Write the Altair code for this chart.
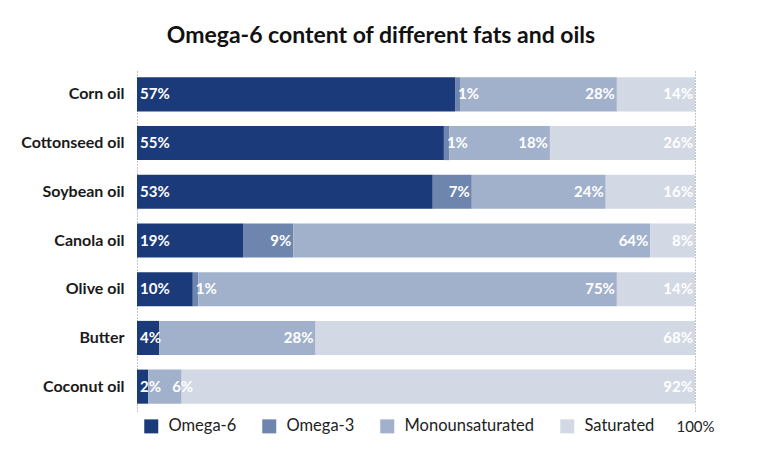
import altair as alt
import pandas as pd

categories = ["Corn oil", "Cottonseed oil", "Soybean oil", "Canola oil", "Olive oil", "Butter", "Coconut oil"]
series = ["Omega-6", "Omega-3", "Monounsaturated", "Saturated"]
omega6 = [57, 55, 53, 19, 10, 4, 2]
omega3 = [1, 1, 7, 9, 1, 0, 0]
mono = [28, 18, 24, 64, 75, 28, 6]
saturated = [14, 26, 16, 8, 14, 68, 92]
colors = ["#1b3a7a", "#6e85ae", "#a1b1cb", "#d2d9e5"]

rows = []
for i, c in enumerate(categories):
    for j, (s, vals) in enumerate(zip(series, [omega6, omega3, mono, saturated])):
        rows.append({"cat": c, "series": s, "order": j, "value": vals[i]})
df = pd.DataFrame(rows)

FONT = "Lato"

base = alt.Chart(df).transform_stack(
    stack="value", as_=["start", "end"], groupby=["cat"], sort=[alt.SortField("order")]
).transform_calculate(lbl="datum.value + '%'")

y = alt.Y("cat:N", sort=categories, title=None,
          scale=alt.Scale(paddingInner=0.3, paddingOuter=0.15),
          axis=alt.Axis(domain=False, ticks=False, labelFontWeight="bold", labelFontSize=16,
                        labelFont=FONT, labelColor="#1a1a1a", labelPadding=13))

bars = base.mark_bar().encode(
    x=alt.X("start:Q", scale=alt.Scale(domain=[0, 100], nice=False), title=None,
            axis=alt.Axis(values=[0, 100], labelExpr="datum.value == 100 ? '100%' : ''",
                          labelFlush=False, domain=False, ticks=False, grid=True,
                          gridDash=[1, 2], gridColor="#8a8a8a",
                          labelFontSize=15, labelFont=FONT, labelColor="#222222", labelPadding=8)),
    x2="end:Q",
    y=y,
    color=alt.Color("series:N", sort=series,
                    scale=alt.Scale(domain=series, range=colors),
                    legend=alt.Legend(title=None, orient="none", legendX=6, legendY=348,
                                      direction="horizontal", symbolType="square", symbolSize=196,
                                      symbolStrokeWidth=0, labelFontSize=16.5, labelFont=FONT,
                                      labelColor="#222222", labelOffset=9, columnPadding=24,
                                      padding=0)),
)

text_style = dict(baseline="middle", color="white", fontWeight="bold", fontSize=15, font=FONT)

labels_left = base.transform_filter(
    "datum.value > 0 && (datum.order == 0 || datum.value < 3)"
).mark_text(align="left", dx=3, **text_style).encode(
    x="start:Q", y=alt.Y("cat:N", sort=categories), text=alt.Text("lbl:N")
)

labels_mid = base.transform_filter(
    "datum.order > 0 && datum.value >= 3 && datum.value < 7"
).mark_text(align="center", dx=1, **text_style).encode(
    x="end:Q", y=alt.Y("cat:N", sort=categories), text=alt.Text("lbl:N")
)

labels_right = base.transform_filter(
    "datum.order > 0 && datum.value >= 7"
).mark_text(align="right", dx=-2, **text_style).encode(
    x="end:Q", y=alt.Y("cat:N", sort=categories), text=alt.Text("lbl:N")
)

chart = alt.layer(bars, labels_left, labels_mid, labels_right).properties(
    width=558, height=341,
    autosize=alt.AutoSizeParams(type="none"),
    padding={"left": 129, "top": 62, "right": 65, "bottom": 37},
    title=alt.Title("Omega-6 content of different fats and oils", fontSize=23, font=FONT,
                    fontWeight="bold", color="#111111", anchor="middle", dx=-35, offset=22),
).configure_view(stroke=None)

chart.save("out.html", embed_options={"renderer": "svg", "actions": False})
